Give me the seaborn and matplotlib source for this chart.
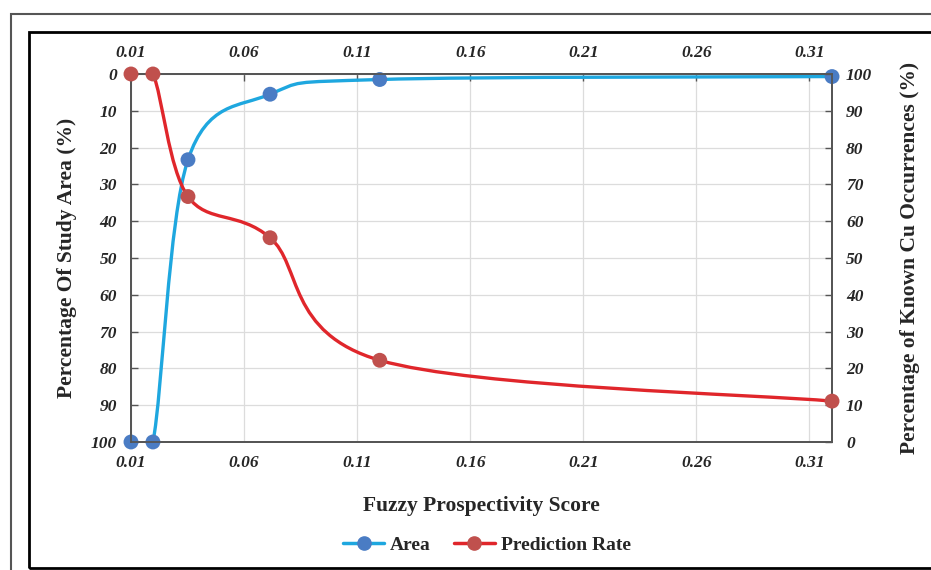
import numpy as np
import pandas as pd
from matplotlib import pyplot as plt
from matplotlib.path import Path
from matplotlib.patches import PathPatch, Rectangle
from matplotlib.lines import Line2D
import seaborn as sns

# values
score = [0.01, 0.0197, 0.0352, 0.0715, 0.120, 0.32]
area = [100, 100, 23.3, 5.5, 1.5, 0.7]          # left axis (inverted)
pred_rate = [100, 100, 66.7, 55.5, 22.2, 11.1]  # right axis
xticks = [0.01, 0.06, 0.11, 0.16, 0.21, 0.26, 0.31]

df = pd.DataFrame({'score': score, 'area': area, 'pred': pred_rate})

AREA_LINE, AREA_DOT = '#1ea7df', '#4a7cc4'
PRED_LINE, PRED_DOT = '#e0262b', '#c0504d'


def smooth_path(xs, ys):
    # excel-like smoothed line: cubic bezier through the points
    p = np.column_stack([xs, ys]).astype(float)
    q = np.vstack([p[0], p, p[-1]])
    verts = [p[0]]
    codes = [Path.MOVETO]
    for i in range(len(p) - 1):
        c1 = q[i + 1] + (q[i + 2] - q[i]) / 6
        c2 = q[i + 2] - (q[i + 3] - q[i + 1]) / 6
        verts += [c1, c2, q[i + 2]]
        codes += [Path.CURVE4] * 3
    return Path(verts, codes)


sns.set_theme(style='white')
plt.rcParams['font.family'] = ['Liberation Serif', 'DejaVu Serif']

fig = plt.figure(figsize=(9.31, 5.70), dpi=100)
ax = fig.add_axes([0.1407, 0.2246, 0.7530, 0.6456])
ax2 = ax.twinx()

# grid
ax.set_xlim(0.01, 0.32)
ax.set_ylim(100, 0)
ax2.set_ylim(0, 100)
ax.set_xticks(xticks)
ax.set_yticks(np.arange(0, 101, 10))
ax2.set_yticks(np.arange(0, 101, 10))
ax.grid(True, color='#dcdcdc', linewidth=0.9)
ax.set_axisbelow(True)

# smoothed lines
ax.add_patch(PathPatch(smooth_path(df['score'], df['area']), facecolor='none',
                       edgecolor=AREA_LINE, linewidth=2.4, zorder=3))
ax2.add_patch(PathPatch(smooth_path(df['score'], df['pred']), facecolor='none',
                        edgecolor=PRED_LINE, linewidth=2.4, zorder=3))

sns.scatterplot(x='score', y='area', data=df, ax=ax, color=AREA_DOT, s=115,
                edgecolor='none', zorder=4, clip_on=False, legend=False)
sns.scatterplot(x='score', y='pred', data=df, ax=ax2, color=PRED_DOT, s=115,
                edgecolor='none', zorder=4, clip_on=False, legend=False)

tick_font = dict(fontsize=12.5, fontweight='bold', fontstyle='italic')
for a in (ax, ax2):
    for s in a.spines.values():
        s.set_color('#555555')
        s.set_linewidth(1.3)
    a.set_xlabel('')
    a.set_ylabel('')
ax.tick_params(axis='x', which='both', direction='in', length=5, width=1,
               color='#555555', top=True, labeltop=True, pad=9.5)
ax.tick_params(axis='y', direction='in', length=5, width=1, color='#555555', pad=10)
ax2.tick_params(axis='y', direction='in', length=5, width=1, color='#555555', pad=10)
ax.set_xticklabels(['%.2f' % t for t in xticks], **tick_font)
ax.set_yticklabels([str(v) for v in range(0, 101, 10)], **tick_font)
ax2.set_yticklabels([str(v) for v in range(0, 101, 10)], **tick_font)

ax.set_xlabel('Fuzzy Prospectivity Score', fontsize=15.5, fontweight='bold', labelpad=18)
ax.set_ylabel('Percentage Of Study Area (%)', fontsize=15.5, fontweight='bold', labelpad=10)
ax2.set_ylabel('Percentage of Known Cu Occurrences (%)', fontsize=15.5,
               fontweight='bold', labelpad=20)

handles = [Line2D([], [], color=AREA_LINE, lw=2.5, marker='o', markersize=9.5,
                  markerfacecolor=AREA_DOT, markeredgecolor=AREA_DOT),
           Line2D([], [], color=PRED_LINE, lw=2.5, marker='o', markersize=9.5,
                  markerfacecolor=PRED_DOT, markeredgecolor=PRED_DOT)]
fig.legend(handles, ['Area', 'Prediction Rate'], loc='center', bbox_to_anchor=(0.523, 0.043),
           ncol=2, frameon=False, handlelength=2.1, handletextpad=0.3, columnspacing=1.2,
           prop=dict(family='Liberation Serif', weight='bold', size=14))

# frames around the picture
fig.patches.append(Rectangle((11 / 931, -0.1), 1.1, 1 - 14.5 / 570 + 0.1, transform=fig.transFigure,
                             fill=False, edgecolor='#555555', linewidth=1.5))
fig.patches.append(Rectangle((29 / 931, 1 - 568 / 570), 1.1, (568 - 32) / 570, transform=fig.transFigure,
                             fill=False, edgecolor='black', linewidth=2))

fig.savefig('out.png', dpi=100)
